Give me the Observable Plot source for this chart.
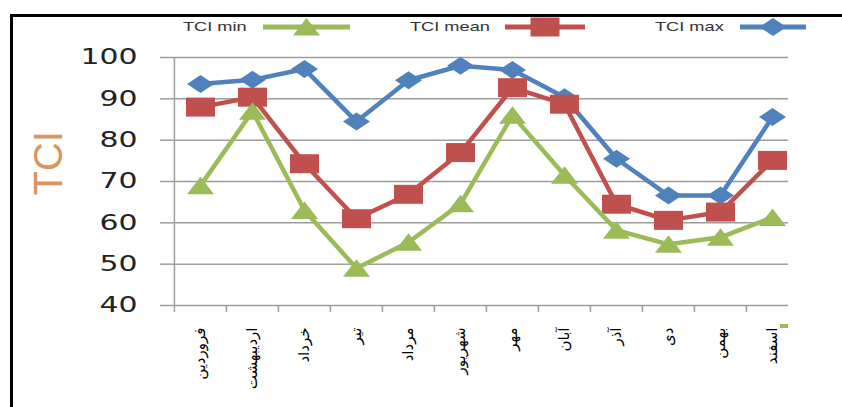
<!DOCTYPE html>
<html><head><meta charset="utf-8">
<script src="https://cdn.jsdelivr.net/npm/d3@7"></script>
<script src="https://cdn.jsdelivr.net/npm/@observablehq/plot@0.6"></script>
<style>
html,body{margin:0;padding:0;background:#fff}
body{width:842px;height:407px;overflow:hidden;position:relative;font-family:"Liberation Sans",Arial,sans-serif}
#border{position:absolute;left:10px;top:14px;width:900px;height:500px;border-left:3px solid #000;border-top:3px solid #000;pointer-events:none}
#legend{position:relative;height:40px}
.lab{position:absolute;top:19px;font-size:13px;line-height:16px;color:#333;transform-origin:left center;transform:scaleX(1.4);white-space:nowrap}
.ico{position:absolute;top:12px}
#chart svg{display:block}
#blip{position:absolute;left:780px;top:324px;width:8px;height:4px;background:#9bbb59}
</style>
</head><body>
<div id="legend"></div>
<div id="chart"></div>
<div id="border"></div>
<div id="blip"></div>
<script>
const months = ["فروردین","اردیبهشت","خرداد","تیر","مرداد","شهریور","مهر","آبان","آذر","دی","بهمن","اسفند"];
const tciMin  = [69, 87, 63, 49, 55.3, 64.6, 86, 71.5, 58.2, 54.8, 56.5, 61.3];
const tciMean = [88, 90.4, 74.3, 61, 66.9, 77, 92.7, 88.7, 64.5, 60.6, 62.6, 75.1];
const tciMax  = [93.6, 94.6, 97.2, 84.5, 94.5, 98, 97, 90.4, 75.5, 66.6, 66.6, 85.6];
const yTicks = [40, 50, 60, 70, 80, 90, 100];
const seriesNames = ["TCI min", "TCI mean", "TCI max"];
const yTitle = "TCI";

const colors = {min: "#9bbb59", mean: "#c0504d", max: "#4f81bd"};
const diamond = {draw(c){ c.moveTo(0,-9); c.lineTo(13.5,0); c.lineTo(0,9); c.lineTo(-13.5,0); c.closePath(); }};
const square  = {draw(c){ c.rect(-14.5,-9.5,29,19); }};
const triangle= {draw(c){ c.moveTo(0,-9); c.lineTo(13.5,8.5); c.lineTo(-13.5,8.5); c.closePath(); }};

// legend (HTML, above the svg)
const legendCfg = [
  {name: seriesNames[0], color: colors.min,  sym: triangle, labelX: 183, iconX: 263, iconW: 87},
  {name: seriesNames[1], color: colors.mean, sym: square,   labelX: 410, iconX: 505, iconW: 80},
  {name: seriesNames[2], color: colors.max,  sym: diamond,  labelX: 655, iconX: 740, iconW: 66}
];
const leg = d3.select("#legend");
for (const s of legendCfg) {
  leg.append("div").attr("class","lab").style("left", s.labelX+"px").text(s.name);
  const svg = leg.append("svg").attr("class","ico").style("left", s.iconX+"px")
    .attr("width", s.iconW).attr("height", 30);
  svg.append("line").attr("x1",0).attr("x2",s.iconW).attr("y1",15).attr("y2",15)
    .attr("stroke", s.color).attr("stroke-width", 5);
  const p = d3.path(); s.sym.draw(p);
  svg.append("path").attr("d", p.toString()).attr("transform", `translate(${s.iconW/2},15)`).attr("fill", s.color);
}

const W = 842, H = 367, mL = 173, mR = 54, xEnd = 799;
const bw = (xEnd - mL) / months.length;
const grid = "#9d9d9d";

const plot = Plot.plot({
  width: W, height: H,
  marginTop: 17, marginBottom: 102, marginLeft: mL, marginRight: mR,
  style: {background: "transparent", overflow: "visible"},
  x: {type: "band", domain: months, range: [mL, xEnd], padding: 0},
  y: {domain: [40, 100]},
  marks: [
    Plot.gridY(yTicks, {stroke: grid, strokeOpacity: 1, strokeWidth: 1.5}),
    Plot.ruleX([months[0]], {dx: -bw/2, stroke: grid, strokeWidth: 1.5}),
    Plot.axisY({ticks: yTicks, tickSize: 13, tickPadding: 23, fontSize: 21, fontFamily: "DejaVu Sans",
      stroke: grid, strokeWidth: 1.5, fill: "#222", label: null}),
    Plot.axisX({tickSize: 7, tickFormat: () => "", dx: -bw/2, stroke: grid, strokeWidth: 1.5, label: null}),
    Plot.axisX({tickSize: 0, tickPadding: 22, tickRotate: -90, textAnchor: "end", lineAnchor: "middle",
      fontSize: 15, fontFamily: "DejaVu Sans", fill: "#000", label: null}),
    Plot.text([yTitle], {frameAnchor: "left", dx: -124, dy: 14, rotate: -90, fontSize: 40,
      fontFamily: "Liberation Sans", fill: "#d9955a"}),
    Plot.lineY(tciMax,  {x: months, stroke: colors.max,  strokeWidth: 4.5}),
    Plot.dot(tciMax,    {x: months, y: d => d, symbol: diamond, fill: colors.max, stroke: "none"}),
    Plot.lineY(tciMean, {x: months, stroke: colors.mean, strokeWidth: 4.5}),
    Plot.dot(tciMean,   {x: months, y: d => d, symbol: square, fill: colors.mean, stroke: "none"}),
    Plot.lineY(tciMin,  {x: months, stroke: colors.min,  strokeWidth: 4.5}),
    Plot.dot(tciMin,    {x: months, y: d => d, symbol: triangle, fill: colors.min, stroke: "none"})
  ]
});
d3.select(plot).selectAll('g[aria-label="y-axis tick label"] text').each(function(){
  const t = this.textContent;
  this.setAttribute("textLength", t.length * 19);
  this.setAttribute("lengthAdjust", "spacingAndGlyphs");
});
document.getElementById("chart").appendChild(plot);
</script>
</body></html>
